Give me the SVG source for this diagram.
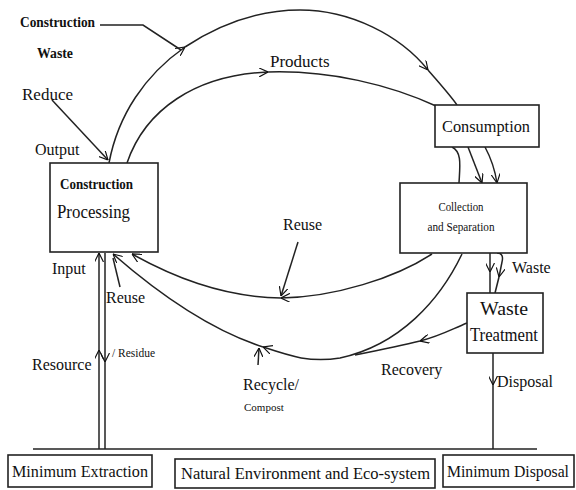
<svg xmlns="http://www.w3.org/2000/svg" width="576" height="490" viewBox="0 0 576 490">
  <defs>
    <marker id="arr" viewBox="0 0 10 10" refX="10" refY="5" markerWidth="9" markerHeight="9" markerUnits="userSpaceOnUse" orient="auto">
      <path d="M0,0 L10,5 L0,10" fill="none" stroke="#111" stroke-width="1.3"/>
    </marker>
  </defs>
  <style>
    text { font-family: "Liberation Serif", "Times New Roman", serif; fill: #111; }
    .b { font-weight: bold; }
    .box { fill: #fff; stroke: #222; stroke-width: 1.6; }
    .ln { fill: none; stroke: #222; stroke-width: 1.5; }
    .ah { marker-end: url(#arr); }
  </style>
  <rect width="576" height="490" fill="#fff"/>

  <!-- connectors -->
  <g id="connectors">
    <!-- construction waste loop over the top -->
    <path class="ln ah" d="M109,163 C118,115 145,75 185,47"/>
    <path class="ln ah" d="M185,47 C220,24 260,10 300,10 C350,10 400,35 428,70"/>
    <path class="ln" d="M428,70 C440,84 450,95 457,105"/>
    <path class="ln" d="M100,25 L143,25 L181,50"/>
    <!-- products -->
    <path class="ln ah" d="M127,163 C145,110 195,75 268,72"/>
    <path class="ln" d="M268,72 C330,70 390,85 436,106"/>
    <!-- reduce -->
    <path class="ln ah" d="M52,100 L108,160"/>
    <!-- consumption to collection -->
    <path class="ln" d="M452,147 C462,152 460,165 459,183"/>
    <path class="ln ah" d="M468,147 L482,183"/>
    <path class="ln ah" d="M485,147 C492,160 495,170 497,183"/>
    <!-- collection to waste treatment -->
    <path class="ln ah" d="M490,253 L490,272"/>
    <path class="ln" d="M490,272 L490,293"/>
    <path class="ln ah" d="M497,253 C503,253 503,258 502,262 L499,277"/>
    <path class="ln" d="M499,277 L495,293"/>
    <!-- reuse -->
    <path class="ln ah" d="M432,254 C395,278 335,297 281,298"/>
    <path class="ln ah" d="M281,298 C220,297 170,275 132,254"/>
    <path class="ln ah" d="M298,242 L281,296"/>
    <!-- recycle / compost -->
    <path class="ln ah" d="M462,254 C440,300 400,345 340,358 C310,363 290,356 263,347"/>
    <path class="ln ah" d="M263,347 C210,330 160,295 113,254"/>
    <path class="ln ah" d="M258,365 L259,348"/>
    <path class="ln" d="M120,287 L113,258"/>
    <!-- recovery -->
    <path class="ln ah" d="M467,323 C450,330 440,336 420,341"/>
    <path class="ln" d="M420,341 C400,346 380,350 355,355"/>
    <!-- resource input and residue -->
    <path class="ln ah" d="M99,449 L99,350"/>
    <path class="ln ah" d="M99,350 L99,253"/>
    <path class="ln ah" d="M105,253 L105,362"/>
    <path class="ln" d="M105,362 L105,449"/>
    <!-- disposal -->
    <path class="ln ah" d="M493,353 L493,385"/>
    <path class="ln" d="M493,385 L493,449"/>
    <!-- environment baseline -->
    <path class="ln" stroke-width="2" d="M33,449 L537,449"/>
  </g>

  <!-- nodes -->
  <g id="processing">
    <rect class="box" x="50" y="163" width="108" height="89"/>
    <text class="b" x="60" y="189" font-size="15" textLength="73" lengthAdjust="spacingAndGlyphs">Construction</text>
    <text x="57" y="218" font-size="18" textLength="73" lengthAdjust="spacingAndGlyphs">Processing</text>
  </g>
  <g id="consumption">
    <rect class="box" x="435" y="105" width="104" height="42"/>
    <text x="442" y="132" font-size="17" textLength="88" lengthAdjust="spacingAndGlyphs">Consumption</text>
  </g>
  <g id="collection">
    <rect class="box" x="400" y="183" width="127" height="70"/>
    <text x="461" y="211" font-size="12" text-anchor="middle" textLength="45" lengthAdjust="spacingAndGlyphs">Collection</text>
    <text x="461" y="231" font-size="12" text-anchor="middle" textLength="67" lengthAdjust="spacingAndGlyphs">and Separation</text>
  </g>
  <g id="treatment">
    <rect class="box" x="467" y="293" width="76" height="60"/>
    <text x="480" y="315" font-size="18" textLength="48" lengthAdjust="spacingAndGlyphs">Waste</text>
    <text x="470" y="341" font-size="18" textLength="68" lengthAdjust="spacingAndGlyphs">Treatment</text>
  </g>
  <g id="extraction">
    <rect class="box" x="8" y="455" width="144" height="32"/>
    <text x="12" y="477" font-size="17" textLength="136" lengthAdjust="spacingAndGlyphs">Minimum Extraction</text>
  </g>
  <g id="environment">
    <rect class="box" x="175" y="459" width="260" height="29"/>
    <text x="181" y="479" font-size="17" textLength="249" lengthAdjust="spacingAndGlyphs">Natural Environment and Eco-system</text>
  </g>
  <g id="disposal">
    <rect class="box" x="443" y="455" width="131" height="32"/>
    <text x="447" y="477" font-size="16" textLength="122" lengthAdjust="spacingAndGlyphs">Minimum Disposal</text>
  </g>

  <!-- flow labels -->
  <g id="labels">
    <text class="b" x="20" y="27" font-size="15" textLength="75" lengthAdjust="spacingAndGlyphs">Construction</text>
    <text class="b" x="37" y="58" font-size="15" textLength="36" lengthAdjust="spacingAndGlyphs">Waste</text>
    <text x="22" y="100" font-size="17">Reduce</text>
    <text x="35" y="155" font-size="16">Output</text>
    <text x="270" y="67" font-size="17">Products</text>
    <text x="283" y="230" font-size="16">Reuse</text>
    <text x="52" y="274" font-size="16">Input</text>
    <text x="106" y="303" font-size="16">Reuse</text>
    <text x="32" y="370" font-size="16">Resource</text>
    <text x="112" y="357" font-size="11.5">/ Residue</text>
    <text x="243" y="390" font-size="16">Recycle/</text>
    <text x="244" y="411" font-size="11">Compost</text>
    <text x="381" y="375" font-size="16">Recovery</text>
    <text x="512" y="273" font-size="16">Waste</text>
    <text x="497" y="387" font-size="16">Disposal</text>
  </g>
</svg>
